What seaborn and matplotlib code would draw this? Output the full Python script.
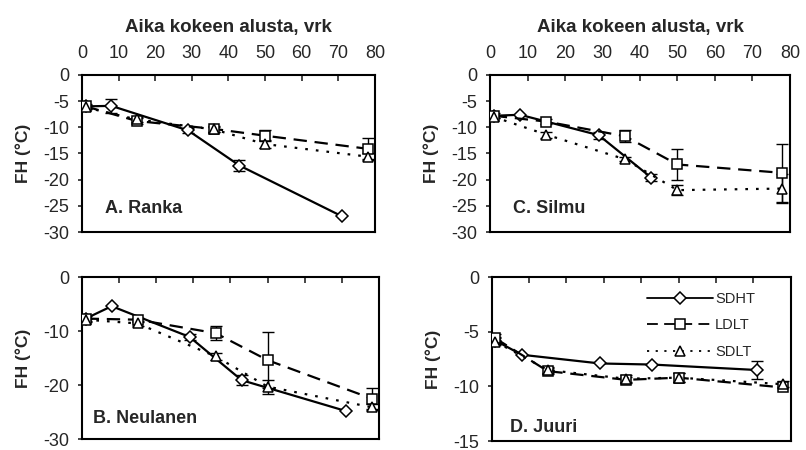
import numpy as np
import pandas as pd
import matplotlib
matplotlib.use("Agg")
import matplotlib.pyplot as plt
import seaborn as sns

# ---------------- data ----------------
treatments = ["SDHT", "LDLT", "SDLT"]
sdht_days = [1, 8, 29, 43, 71]
lt_days = [1, 15, 36, 50, 78]

# Panel A. Ranka
a_sdht = [-6.0, -5.9, -10.6, -17.3, -27.0]
a_sdht_err = [0.0, 1.4, 0.4, 1.0, 0.0]
a_ldlt = [-6.0, -8.8, -10.3, -11.6, -14.1]
a_ldlt_err = [0.5, 0.6, 0.5, 1.0, 2.0]
a_sdlt = [-6.2, -8.5, -10.4, -13.2, -15.6]
a_sdlt_err = [0.3, 0.5, 0.4, 0.7, 0.6]

# Panel B. Neulanen
b_sdht = [-7.7, -5.4, -11.1, -19.1, -24.8]
b_sdht_err = [0.0, 0.0, 0.6, 0.9, 0.0]
b_ldlt = [-7.7, -7.9, -10.4, -15.4, -22.5]
b_ldlt_err = [0.5, 0.4, 1.3, 5.2, 2.0]
b_sdlt = [-7.9, -8.6, -14.7, -20.3, -24.1]
b_sdlt_err = [0.4, 0.5, 0.6, 1.3, 0.6]

# Panel C. Silmu
c_sdht = [-7.8, -7.6, -11.5, -19.6, np.nan]
c_sdht_err = [0.0, 0.0, 0.7, 0.6, 0.0]
c_ldlt = [-7.8, -8.9, -11.7, -17.1, -18.7]
c_ldlt_err = [0.5, 0.5, 1.1, 3.0, 5.5]
c_sdlt = [-8.0, -11.4, -16.1, -22.0, -21.7]
c_sdlt_err = [0.3, 0.6, 0.4, 1.0, 2.7]

# Panel D. Juuri
d_sdht = [-5.8, -7.1, -7.9, -8.0, -8.5]
d_sdht_err = [0.3, 0.0, 0.0, 0.0, 0.8]
d_ldlt = [-5.6, -8.6, -9.4, -9.2, -10.1]
d_ldlt_err = [0.4, 0.3, 0.3, 0.4, 0.0]
d_sdlt = [-5.9, -8.5, -9.3, -9.2, -9.8]
d_sdlt_err = [0.3, 0.3, 0.3, 0.4, 0.3]

panel_titles = ["A. Ranka", "B. Neulanen", "C. Silmu", "D. Juuri"]
x_ticks = [0, 10, 20, 30, 40, 50, 60, 70, 80]
x_label = "Aika kokeen alusta, vrk"
y_label = "FH (°C)"

# ---------------- style ----------------
sns.set_theme(style="ticks")
plt.rcParams["font.family"] = ["Liberation Sans", "DejaVu Sans"]
plt.rcParams["axes.unicode_minus"] = False

fig = plt.figure(figsize=(8.06, 4.5), dpi=100)

positions = {
    "A": [0.1017, 0.4844, 0.3635, 0.349],
    "C": [0.6080, 0.4844, 0.3720, 0.349],
    "B": [0.1017, 0.0244, 0.3685, 0.360],
    "D": [0.6100, 0.0200, 0.3710, 0.364],
}

panels = {
    "A": (a_sdht, a_sdht_err, a_ldlt, a_ldlt_err, a_sdlt, a_sdlt_err),
    "B": (b_sdht, b_sdht_err, b_ldlt, b_ldlt_err, b_sdlt, b_sdlt_err),
    "C": (c_sdht, c_sdht_err, c_ldlt, c_ldlt_err, c_sdlt, c_sdlt_err),
    "D": (d_sdht, d_sdht_err, d_ldlt, d_ldlt_err, d_sdlt, d_sdlt_err),
}
titles = dict(zip(["A", "B", "C", "D"], panel_titles))
ylims = {"A": (-30, 0), "B": (-30, 0), "C": (-30, 0), "D": (-15, 0)}
ysteps = {"A": 5, "B": 10, "C": 5, "D": 5}
title_pos = {"A": (0.08, 0.12), "B": (0.037, 0.10), "C": (0.077, 0.12), "D": (0.06, 0.055)}

markers = {"SDHT": "D", "LDLT": "s", "SDLT": "^"}
dashes = {"SDHT": "", "LDLT": (6, 3.5), "SDLT": (1.2, 3.6)}

for key in ["A", "C", "B", "D"]:
    ax = fig.add_axes(positions[key])
    s, se, l, le, t, te = panels[key]
    rows = []
    for tr, days, vals, errs in [("SDHT", sdht_days, s, se),
                                 ("LDLT", lt_days, l, le),
                                 ("SDLT", lt_days, t, te)]:
        for d, v, e in zip(days, vals, errs):
            rows.append({"day": d, "FH": v, "err": e, "treatment": tr})
    df = pd.DataFrame(rows).dropna(subset=["FH"])

    # error bars first (beneath markers)
    eb = df[df["err"] > 0]
    ax.errorbar(eb["day"], eb["FH"], yerr=eb["err"], fmt="none",
                ecolor="black", elinewidth=1.0, capsize=4.5, capthick=1.0,
                zorder=1)

    sns.lineplot(data=df, x="day", y="FH", style="treatment",
                 style_order=treatments, markers=markers, dashes=dashes,
                 color="black", markerfacecolor="white",
                 markeredgecolor="black", markeredgewidth=1.1,
                 markersize=7, linewidth=1.6, errorbar=None,
                 legend=(key == "D"), ax=ax, zorder=3)
    for line in ax.get_lines():
        if line.get_marker() == "D":
            line.set_markersize(6.2)

    ax.set_xlim(0, 80)
    lo, hi = ylims[key]
    ax.set_ylim(lo, hi)
    ax.set_yticks(np.arange(lo, hi + 0.1, ysteps[key]))
    ax.set_xticks(x_ticks)
    ax.xaxis.tick_top()
    ax.tick_params(axis="x", direction="in", length=4, width=1.2, pad=9,
                   labelsize=13, top=True, bottom=False,
                   labeltop=key in ("A", "C"), labelbottom=False)
    ax.tick_params(axis="y", direction="out", length=3, width=1.2, pad=6,
                   labelsize=13)
    for sp in ax.spines.values():
        sp.set_visible(True)
        sp.set_linewidth(1.5)
        sp.set_color("black")
    ax.set_ylabel(y_label, fontsize=12.5, fontweight="bold", labelpad=9)
    if key in ("A", "C"):
        ax.set_xlabel(x_label, fontsize=13.5, fontweight="bold", labelpad=10)
        ax.xaxis.set_label_position("top")
    else:
        ax.set_xlabel("")
    tx, ty = title_pos[key]
    ax.text(tx, ty, titles[key], transform=ax.transAxes, fontsize=13,
            fontweight="bold", ha="left", va="baseline")

    if key == "D":
        handles, labels = ax.get_legend_handles_labels()
        for h in handles:
            h.set_color("black")
            h.set_markerfacecolor("white")
            h.set_markeredgecolor("black")
            h.set_markeredgewidth(1.1)
            h.set_linewidth(1.3)
        ax.legend(handles, labels, loc="upper left",
                  bbox_to_anchor=(0.52, 0.91), frameon=False, fontsize=10.5,
                  handlelength=4.5, handletextpad=0.15, labelspacing=0.85,
                  borderpad=0, borderaxespad=0)

fig.savefig("out.png", dpi=100)
